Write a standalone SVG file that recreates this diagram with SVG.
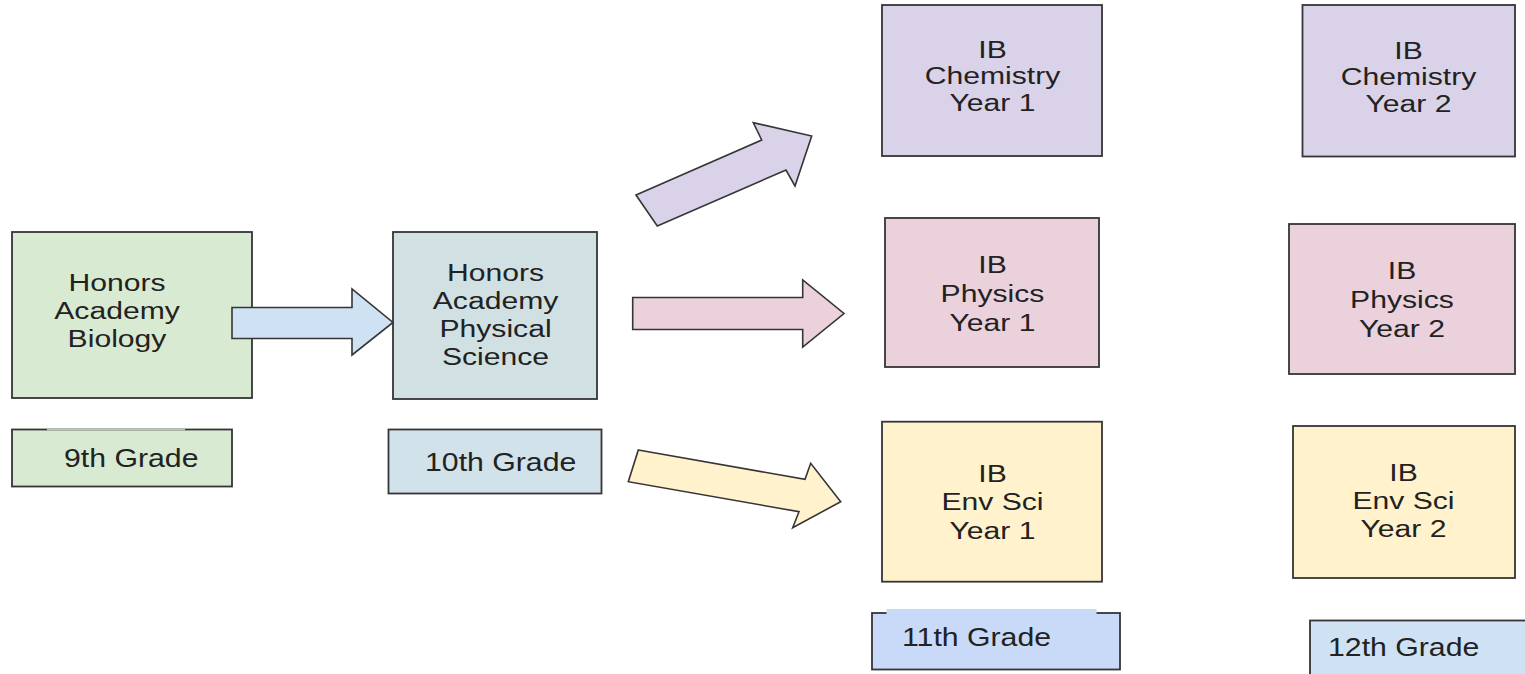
<svg xmlns="http://www.w3.org/2000/svg" width="1525" height="674" viewBox="0 0 1525 674">
<style>
.bx{stroke:#353535;stroke-width:1.8}
.ar{stroke:#353535;stroke-width:1.6;stroke-linejoin:miter}
.t{font-family:"Liberation Sans",Arial,sans-serif;font-size:23px;fill:#222;text-anchor:middle}
.g{font-family:"Liberation Sans",Arial,sans-serif;font-size:25px;fill:#222}
.green{fill:#d9ead3}.teal{fill:#d0e0e3}.blue{fill:#cfe2f3}.blue2{fill:#c9daf8}
.purple{fill:#d9d2e9}.pink{fill:#ead1dc}.yellow{fill:#fff2cc}
</style>
<rect width="1525" height="674" fill="#ffffff"/>

<g id="bio">
  <rect class="bx green" x="12" y="232" width="240" height="166"/>
  <text class="t" transform="translate(117,291) scale(1.31,1)"><tspan x="0" y="0">Honors</tspan><tspan x="0" dy="28">Academy</tspan><tspan x="0" dy="28">Biology</tspan></text>
</g>

<g id="physsci">
  <rect class="bx teal" x="393" y="232" width="204" height="167"/>
  <text class="t" transform="translate(495.5,280.5) scale(1.31,1)"><tspan x="0" y="0">Honors</tspan><tspan x="0" dy="28.3">Academy</tspan><tspan x="0" dy="28.3">Physical</tspan><tspan x="0" dy="28.3">Science</tspan></text>
</g>

<g id="grade9">
  <rect class="bx green" x="12" y="429.5" width="220" height="57"/>
  <rect fill="#bfc9bb" x="47" y="428.6" width="138" height="1.8"/>
  <text class="g" transform="translate(64,467) scale(1.21,1)">9th Grade</text>
</g>

<g id="grade10">
  <rect class="bx" fill="#d2e2ea" x="388.5" y="429.5" width="213" height="64"/>
  <text class="g" transform="translate(425,471) scale(1.21,1)">10th Grade</text>
</g>

<g id="chem1">
  <rect class="bx purple" x="882" y="5" width="220" height="151"/>
  <text class="t" transform="translate(992.5,58) scale(1.31,1)"><tspan x="0" y="0">IB</tspan><tspan x="0" dy="26.5">Chemistry</tspan><tspan x="0" dy="26.5">Year 1</tspan></text>
</g>

<g id="phys1">
  <rect class="bx pink" x="885" y="218" width="214" height="149"/>
  <text class="t" transform="translate(992.5,273) scale(1.31,1)"><tspan x="0" y="0">IB</tspan><tspan x="0" dy="29">Physics</tspan><tspan x="0" dy="29">Year 1</tspan></text>
</g>

<g id="env1">
  <rect class="bx yellow" x="882" y="421.7" width="220" height="160"/>
  <text class="t" transform="translate(992.5,481.5) scale(1.31,1)"><tspan x="0" y="0">IB</tspan><tspan x="0" dy="29">Env Sci</tspan><tspan x="0" dy="29">Year 1</tspan></text>
</g>

<g id="grade11">
  <rect class="bx blue2" x="872" y="613" width="248" height="56.5"/>
  <rect class="blue2" x="886.5" y="609" width="210" height="6"/>
  <text class="g" transform="translate(902,645.5) scale(1.21,1)">11th Grade</text>
</g>

<g id="chem2">
  <rect class="bx purple" x="1302.5" y="5" width="212.5" height="151.5"/>
  <text class="t" transform="translate(1408.5,58.5) scale(1.31,1)"><tspan x="0" y="0">IB</tspan><tspan x="0" dy="27">Chemistry</tspan><tspan x="0" dy="27">Year 2</tspan></text>
</g>

<g id="phys2">
  <rect class="bx pink" x="1289" y="224" width="226" height="150"/>
  <text class="t" transform="translate(1402,279) scale(1.31,1)"><tspan x="0" y="0">IB</tspan><tspan x="0" dy="29">Physics</tspan><tspan x="0" dy="29">Year 2</tspan></text>
</g>

<g id="env2">
  <rect class="bx yellow" x="1293" y="426" width="222" height="152"/>
  <text class="t" transform="translate(1403.5,480.5) scale(1.31,1)"><tspan x="0" y="0">IB</tspan><tspan x="0" dy="28.5">Env Sci</tspan><tspan x="0" dy="28.5">Year 2</tspan></text>
</g>

<g id="grade12">
  <rect class="bx blue" x="1310" y="620.5" width="230" height="70"/>
  <text class="g" transform="translate(1328,655.5) scale(1.21,1)">12th Grade</text>
</g>

<g id="connectors">
  <polygon class="ar blue" points="232,307.5 352,307.5 352,289 393,322.5 352,355 352,338.5 232,338.5"/>
  <polygon class="ar purple" points="636,195 761.7,140 753.3,122.7 811.7,136 795,186 786,170 657.3,226"/>
  <polygon class="ar pink" points="632.7,297.5 802.7,297.5 802.7,280 844,313.5 802.7,347 802.7,329.5 632.7,329.5"/>
  <polygon class="ar yellow" points="638.3,450 805,479.3 810.7,463.3 840.7,501.7 792.7,527.7 799,511.7 628.3,481.7"/>
</g>
</svg>
